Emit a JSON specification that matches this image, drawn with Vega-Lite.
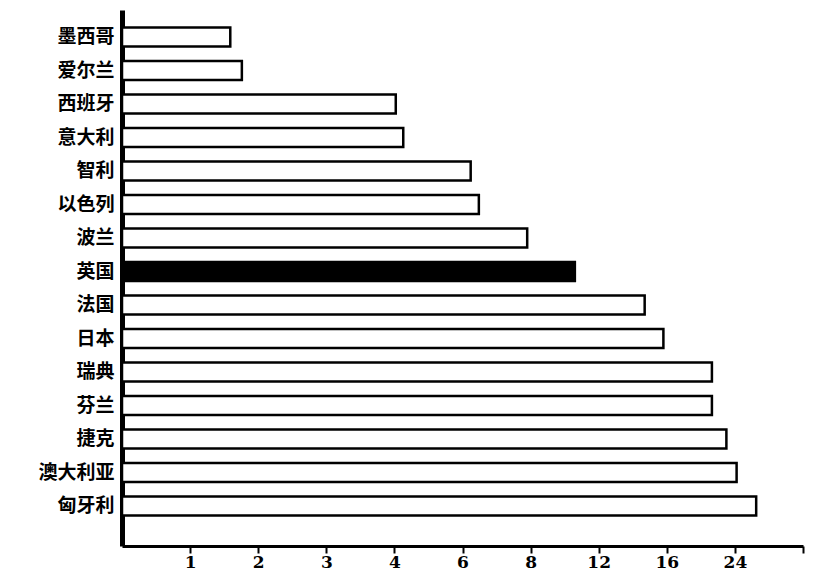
{
  "$schema": "https://vega.github.io/schema/vega-lite/v6.json",
  "autosize": "none",
  "padding": {"left": 122, "top": 10, "right": 20, "bottom": 25},
  "width": 681,
  "height": 536,
  "background": "white",
  "config": {"view": {"stroke": null}},
  "data": {
    "values": [
      {"country": "墨西哥", "value": 1.59},
      {"country": "爱尔兰", "value": 1.76},
      {"country": "西班牙", "value": 4.04},
      {"country": "意大利", "value": 4.26},
      {"country": "智利", "value": 6.24},
      {"country": "以色列", "value": 6.48},
      {"country": "波兰", "value": 7.9},
      {"country": "英国", "value": 10.6},
      {"country": "法国", "value": 14.7},
      {"country": "日本", "value": 15.8},
      {"country": "瑞典", "value": 21.3},
      {"country": "芬兰", "value": 21.3},
      {"country": "捷克", "value": 23.0},
      {"country": "澳大利亚", "value": 24.2},
      {"country": "匈牙利", "value": 26.5}
    ]
  },
  "mark": {"type": "bar", "stroke": "black", "strokeWidth": 2.5, "cornerRadius": 0},
  "encoding": {
    "y": {
      "field": "country",
      "type": "nominal",
      "sort": null,
      "scale": {"paddingInner": 0.43, "paddingOuter": 0.715, "align": 0.365},
      "axis": {
        "title": null,
        "ticks": false,
        "domainColor": "black",
        "domainWidth": 5,
        "labelFont": "Noto Sans CJK SC",
        "labelFontWeight": "bold",
        "labelFontSize": 19,
        "labelColor": "black",
        "labelPadding": 8
      }
    },
    "x": {
      "field": "value",
      "type": "quantitative",
      "scale": {
        "domain": [0, 1, 2, 3, 4, 6, 8, 12, 16, 24, 32],
        "range": [0, 68.1, 136.2, 204.3, 272.4, 340.5, 408.6, 476.7, 544.8, 612.9, 681],
        "clamp": true
      },
      "axis": {
        "title": null,
        "values": [1, 2, 3, 4, 6, 8, 12, 16, 24, 32],
        "labelExpr": "datum.value == 32 ? '' : datum.label",
        "grid": false,
        "domainColor": "black",
        "domainWidth": 3,
        "tickColor": "black",
        "tickWidth": 2,
        "tickSize": 7,
        "labelFont": "DejaVu Serif",
        "labelFontWeight": "bold",
        "labelFontSize": 17,
        "labelColor": "black",
        "labelPadding": 1
      }
    },
    "fill": {
      "condition": {"test": "datum.country === '英国'", "value": "black"},
      "value": "white"
    }
  }
}
